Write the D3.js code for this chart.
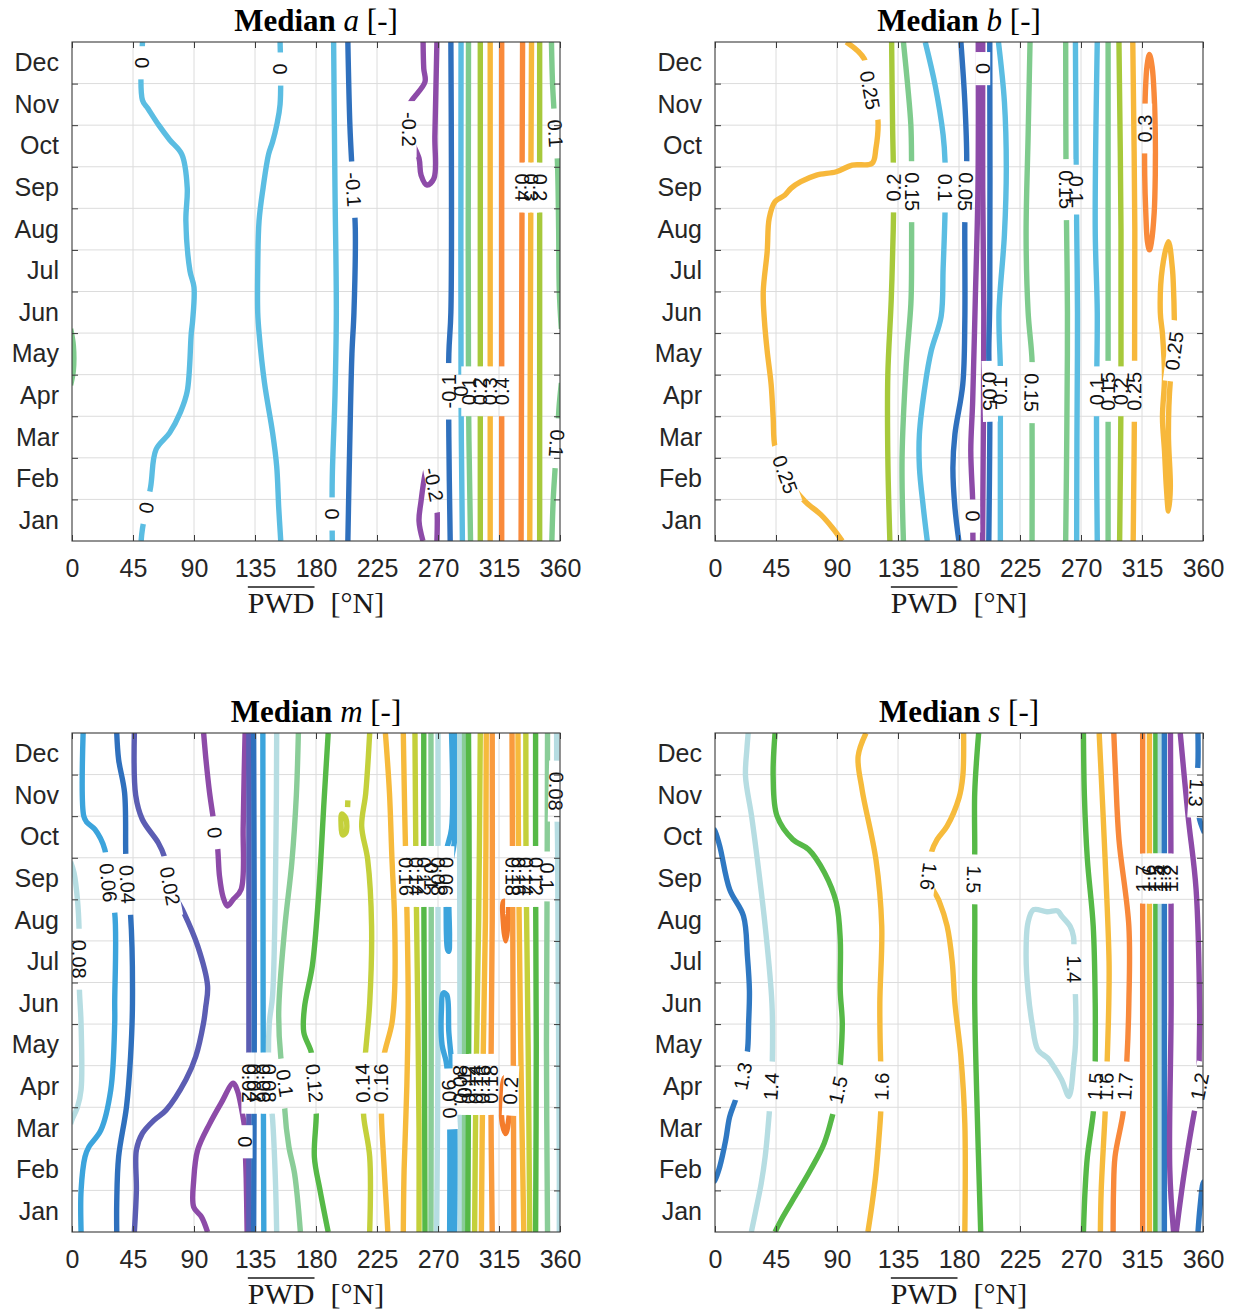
<!DOCTYPE html>
<html>
<head>
<meta charset="utf-8">
<script src="https://cdn.jsdelivr.net/npm/d3@7"></script>
<style>
  body { margin: 0; background: #fff; }
  svg { display: block; }
</style>
</head>
<body>
<div id="chart"></div>
<script>
var w = 1235, h = 1316;
var plotW = 488, plotH = 499;

// axes
var months = ['Jan','Feb','Mar','Apr','May','Jun','Jul','Aug','Sep','Oct','Nov','Dec'];
var monthPos = d3.range(1, 13);
var monthEdges = d3.range(1.5, 12, 1);
var xTicks = [0, 45, 90, 135, 180, 225, 270, 315, 360];

// each contour: level, points [PWD, month] and label anchors

// ---- median a ----
var aLevels = [-0.2, -0.1, 0, 0.1, 0.2, 0.3, 0.4];
var aColors = ['#8d4ba8', '#2f70bd', '#5bbde2', '#7fcb8d', '#a7c93b', '#f7b83b', '#f98a3b'];
var aLines = [
  {lev: 0, pts: [[52,12.5],[52,11.1],[56,10.9],[64,10.5],[72,10.15],[81,9.8],[85,9.0],[84,8.2],[87,7.0],[90,6.6],[89,5.8],[88,5.5],[85,4.1],[80,3.6],[72,3.1],[62,2.7],[58,1.8],[52,0.8],[51,0.5]], lab: [[52,12.0],[55,1.3]]},
  {lev: 0, pts: [[153.5,12.5],[153.5,11.0],[151,10.5],[148,10.1],[145,9.8],[141,9.0],[138,8.2],[137,7.0],[137,6.0],[138,5.5],[142,4.3],[148,3.1],[151,2.3],[152.5,1.3],[154,0.5]], lab: [[153.5,11.85]]},
  {lev: 0, pts: [[193,12.5],[194,9],[195,6],[194,4],[192,2],[192,0.5]], lab: [[192,1.15]]},
  {lev: -0.1, pts: [[203.5,12.5],[205,10.5],[206.5,9.5],[207.5,8.95],[209,8],[208,6],[206.5,5],[205,3],[203.5,0.5]], lab: [[207.5,8.95]]},
  {lev: -0.2, pts: [[259,12.5],[259.5,11.86],[260.4,11.54],[251.7,11.14],[248.7,10.98],[248.7,10.3],[256,9.7],[257.5,9.3],[261.9,9.06],[267,9.22],[267.7,10.26],[269.2,12.5]], lab: [[248.7,10.4]]},
  {lev: -0.2, pts: [[258.9,0.5],[256,0.98],[257.5,1.46],[260.4,2.1],[262.5,2.35],[264.8,2.19],[266.8,1.86],[269.2,1.34],[269.2,0.5]], lab: [[266.8,1.86]]},
  {lev: -0.1, pts: [[279,0.5],[278,3],[278,5],[279.5,6],[279.5,12.5]], lab: [[278,4.1]]},
  {lev: 0, pts: [[288,0.5],[287,4],[287,12.5]], lab: [[287,4.1]]},
  {lev: 0.1, pts: [[294,0.5],[292.5,4],[292.5,12.5]], lab: [[292.7,4.1]]},
  {lev: 0.2, pts: [[301.2,0.5],[301.2,12.5]], lab: [[301.2,4.1]]},
  {lev: 0.3, pts: [[308.5,0.5],[308.5,12.5]], lab: [[308.5,4.1]]},
  {lev: 0.4, pts: [[317,0.5],[317,12.5]], lab: [[317,4.1]]},
  {lev: 0.4, pts: [[332.4,12.5],[332,9],[331.3,0.5]], lab: [[332.2,9.0]]},
  {lev: 0.3, pts: [[339,12.5],[338.5,9],[337.7,0.5]], lab: [[338.8,9.0]]},
  {lev: 0.2, pts: [[345,12.5],[345,0.5]], lab: [[345,9.0]]},
  {lev: 0.1, pts: [[353.7,12.5],[354.5,11.5],[355.5,10.9],[356.6,10.3],[358,9.7],[359,8],[359.5,6.5],[361,5.6]], lab: [[356.6,10.3]]},
  {lev: 0.1, pts: [[361,4.3],[359.5,3.8],[358.5,3.3],[357.5,2.85],[356.5,2.3],[355,1.5],[354,0.5]], lab: [[357.5,2.85]]},
  {lev: 0.1, pts: [[-1,5.6],[1,5.2],[1,4.6],[-1,4.25]]}
];

// ---- median b ----
var bLevels = [0, 0.05, 0.1, 0.15, 0.2, 0.25, 0.3];
var bColors = ['#8d4ba8', '#2f70bd', '#5bbde2', '#7fcb8d', '#a7c93b', '#f7b83b', '#f98a3b'];
var bLines = [
  {lev: 0.25, pts: [[96.8,12.5],[110,12.1],[114.3,11.34],[120.1,10.66],[118.7,9.94],[115.8,9.58],[101.2,9.54],[89.5,9.38],[74.9,9.3],[63.3,9.14],[56,8.98],[51.6,8.82],[44.3,8.66],[40,8.26],[38.5,7.46],[35.6,6.5],[36.5,5.78],[38.5,5.07],[41.4,4.27],[42.9,3.47],[44.3,2.75],[51.6,2.1],[66.2,1.46],[77.9,1.14],[86.6,0.82],[93.9,0.5]], lab: [[114.3,11.34],[51.6,2.1]]},
  {lev: 0.2, pts: [[129,0.5],[127.5,2.5],[127.5,4.5],[130,6.3],[131.5,8],[131.8,9.0],[131,10.5],[130.3,12.5]], lab: [[131.8,9.0]]},
  {lev: 0.15, pts: [[139,12.5],[142,11.5],[144.5,10.5],[145,9.6],[145,8.9],[145,7],[144.5,6.2],[141,4.7],[138,2.5],[139,0.5]], lab: [[145,8.9]]},
  {lev: 0.1, pts: [[155.1,12.5],[162.4,11.46],[168.3,10.26],[169.7,9.62],[169.7,9.02],[169.7,8.42],[168.3,7.06],[166.8,5.9],[159.5,5.07],[155.1,4.27],[150.8,3.07],[150.8,2.27],[153.7,1.3],[156.6,0.5]], lab: [[169.7,9.0]]},
  {lev: 0.05, pts: [[181.4,12.5],[184.3,11.06],[185.7,9.62],[184.8,8.9],[184.3,8.18],[184.3,5.8],[182.8,4.27],[177,3.07],[175.5,2.27],[177,1.3],[179.9,0.5]], lab: [[184.8,8.9]]},
  {lev: 0, pts: [[194.2,12.5],[194,9],[192,6.28],[190.1,3.87],[188.7,2.67],[190.1,1.46],[190.1,1.14],[190.3,0.5]], lab: [[190.1,1.1]]},
  {lev: 0, pts: [[197.5,12.5],[197.5,9],[198.3,6],[197.4,0.5]], lab: [[197.5,11.86]]},
  {lev: 0.05, pts: [[202.7,12.5],[202.7,6.3],[202,5],[202.7,4.1],[202.7,3],[202,0.5]], lab: [[202.7,4.1]]},
  {lev: 0.1, pts: [[210.5,0.5],[210.5,2.5],[210.5,4.11],[210.5,4.67],[209.5,6],[213.5,7.86],[214.9,9.46],[213.5,11.06],[209.1,12.5]], lab: [[210.5,4.11]]},
  {lev: 0.15, pts: [[232.4,12.5],[231,10.26],[229.5,7.86],[231,6.0],[233.9,4.83],[233.5,4.07],[233.9,3.39],[233.9,0.5]], lab: [[233.5,4.07]]},
  {lev: 0.15, pts: [[258.7,12.5],[259,9],[260,6],[259.5,3],[258.7,0.5]], lab: [[259,8.95]]},
  {lev: 0.1, pts: [[265.9,12.5],[266.5,9],[267.4,6],[267,3],[266.8,0.5]], lab: [[266.5,8.95]]},
  {lev: 0.1, pts: [[282,0.5],[281.5,2.5],[281.5,4.1],[282,6],[280.5,8],[282,12.5]], lab: [[281.5,4.1]]},
  {lev: 0.15, pts: [[290,0.5],[290,12.5]], lab: [[290,4.1]]},
  {lev: 0.2, pts: [[298.5,0.5],[299.5,4],[299.5,8],[298,12.5]], lab: [[299.3,4.1]]},
  {lev: 0.25, pts: [[308.5,0.5],[309.5,4],[309.7,8],[308.2,12.5]], lab: [[309.3,4.1]]},
  {lev: 0.3, closed: true, pts: [[320.5,12.2],[322.5,11.9],[324,11.2],[324.8,10.3],[324.8,9.3],[324,8.4],[322,7.7],[320.5,7.5],[319,7.7],[317.8,8.4],[317,9.3],[317,10.42],[317.5,11.3],[318.8,11.95]], lab: [[317,10.42]]},
  {lev: 0.25, closed: true, pts: [[334.5,1.22],[335.9,1.78],[334.5,3.07],[335.9,4.35],[338.8,5.07],[338.8,5.9],[338.2,6.6],[337.4,7.06],[334.5,7.7],[330,7.06],[328.5,6.0],[330.1,5.48],[331.6,4.43],[330.1,3.47],[331.6,2.67],[333,1.78]], lab: [[338.8,5.07]]}
];

// ---- median m ----
var mLevels = [0, 0.02, 0.04, 0.06, 0.08, 0.1, 0.12, 0.14, 0.16, 0.18, 0.2];
var mColors = ['#8d4ba8', '#5b5db3', '#2f70bd', '#3ca4dc', '#b6dde2', '#8acd98', '#56b947', '#c4d03b', '#f6ba3c', '#f99b3e', '#f47c2c'];
var mLines = [
  {lev: 0.08, pts: [[-1,9.4],[1.5,9.14],[4,8.5],[5.2,7.8],[5.2,7.06],[5.5,6.3],[6.7,5.5],[6.7,3.92],[4,3.5],[0,3.2],[-1,3.1]], lab: [[5.2,7.06]]},
  {lev: 0.06, pts: [[8.2,12.5],[8.7,10.5],[11,10.35],[16.9,10.18],[24.2,9.7],[26.8,8.9],[31.5,8.18],[31.5,6.0],[31.5,5.52],[28.6,3.92],[21.3,2.95],[12.5,2.55],[9.6,2.31],[6.7,1.5],[6.7,0.5]], lab: [[26.8,8.9]]},
  {lev: 0.04, pts: [[33,12.5],[34.4,11.86],[38.8,11.06],[39.7,9.54],[40.8,8.86],[43.2,8.14],[44.6,6.0],[43.2,4.72],[40.2,3.51],[34.4,2.31],[33,1.2],[33,0.5]], lab: [[40.8,8.86]]},
  {lev: 0.02, pts: [[46,12.5],[47,11],[51.9,10.42],[63.6,9.86],[68,9.54],[72.3,8.82],[82.5,8.18],[92.7,7.38],[100,6.42],[98.6,5.9],[97,5.52],[91.3,4.72],[84,4.16],[69.4,3.43],[60.6,3.19],[51.9,2.87],[47.5,2.47],[47.5,1.5],[46,0.5]], lab: [[72.3,8.82]]},
  {lev: 0, pts: [[97.1,12.5],[99,11.8],[101.5,11.06],[104.4,10.4],[105.5,10.1],[107.3,9.78],[108.8,9.06],[111.5,8.55],[114.6,8.34],[119,8.5],[124.8,8.74],[126.3,10.26],[127,11.5],[127.7,12.5]], lab: [[105.2,10.1]]},
  {lev: 0, pts: [[100,0.5],[95.6,0.86],[89.8,1.1],[89.8,1.75],[92.7,2.47],[101.5,3.1],[110,3.6],[119,4.08],[122,3.9],[124.8,3.51],[127.7,2.9],[127.7,2.67],[128.5,1.8],[129.2,0.5]], lab: [[127.7,2.67]]},
  {lev: 0.02, pts: [[130.5,12.5],[130.5,0.5]], lab: [[130.5,4.08]]},
  {lev: 0.04, pts: [[134,12.5],[134.5,6],[134,0.5]], lab: [[134.3,4.08]]},
  {lev: 0.06, pts: [[140.8,12.5],[141,6],[141.5,0.5]], lab: [[141.2,4.08]]},
  {lev: 0.08, pts: [[151,12.5],[150.5,10],[148,6.2],[145.5,5.5],[145.5,4.08],[148,3.2],[150,1.8],[151,0.5]], lab: [[145.5,4.08]]},
  {lev: 0.1, pts: [[167,12.5],[165.5,11],[162.2,9.4],[156.9,7.8],[152.5,5.8],[154,4.72],[157,4.08],[157,3.43],[160,2.55],[164.2,1.9],[168.5,0.5]], lab: [[157,4.08]]},
  {lev: 0.12, pts: [[189,12.5],[186,10.9],[181.7,8.5],[177.3,6.9],[171.5,5.9],[171,5.3],[176.7,4.8],[178.8,4.08],[180.2,3.35],[178.8,2.3],[183,1.5],[189,0.5]], lab: [[178.8,4.08]]},
  {lev: 0.14, closed: true, pts: [[199,10.55],[202,10.45],[202,10.1],[199.5,10.05],[198.5,10.3]]},
  {lev: 0.14, pts: [[203.5,10.88],[203.3,10.72]]},
  {lev: 0.14, pts: [[219.6,0.5],[219.6,2.31],[215.2,3.27],[214.5,4.08],[216.7,4.88],[219.6,6.0],[221,7.86],[218.1,9.46],[213.7,10.26],[216.7,11.06],[219.6,12.5]], lab: [[214.5,4.08]]},
  {lev: 0.16, pts: [[233,0.5],[229.8,2.31],[228.3,3.27],[228.3,4.08],[230,4.72],[236,5.52],[238,6.3],[238,8],[236,9.5],[234.2,11.06],[231.2,12.5]], lab: [[228.3,4.08]]},
  {lev: 0.16, pts: [[244.4,12.5],[245.5,10.5],[246.5,9.05],[247.5,7.5],[248,6],[247,4],[245,2],[244.4,0.5]], lab: [[246.5,9.05]]},
  {lev: 0.14, pts: [[253,12.5],[253.8,9.05],[255,6],[256,3],[256,0.5]], lab: [[253.8,9.05]]},
  {lev: 0.12, pts: [[259.5,12.5],[259.5,9.05],[260,5],[260.4,0.5]], lab: [[259.5,9.05]]},
  {lev: 0.1, pts: [[264.8,12.5],[265,9.05],[265,5],[264.8,0.5]], lab: [[265,9.05]]},
  {lev: 0.08, pts: [[270,12.5],[270,9.05],[270,5],[269,0.5]], lab: [[270,9.05]]},
  {lev: 0.06, pts: [[280,12.5],[280,10.2],[276.5,9.7],[276,9.05],[276,8.4],[277,7.3],[278,7.25],[278.5,7.6],[278,8.4],[278.5,9.2],[282.5,10],[282.5,12.5]], lab: [[276,9.05]]},
  {lev: 0.06, pts: [[278.6,0.5],[278.6,3.3],[277.8,4.0],[276,4.6],[273,5.0],[272.5,5.8],[274,6.25],[276.5,6.2],[278,5.3],[280,4.6],[282.3,3.6],[282.3,0.5]], lab: [[278.4,3.7]]},
  {lev: 0.08, pts: [[286.6,0.5],[286.3,4.05],[286,9],[286,12.5]], lab: [[286.3,4.05]]},
  {lev: 0.1, pts: [[289.5,0.5],[289.6,4.05],[289.6,12.5]], lab: [[289.6,4.05]]},
  {lev: 0.12, pts: [[292,0.5],[292.5,4.05],[293,9],[292.5,12.5]], lab: [[292.5,4.05]]},
  {lev: 0.14, pts: [[297,0.5],[298,4.05],[300,8],[301.2,12.5]], lab: [[298,4.05]]},
  {lev: 0.16, pts: [[302,0.5],[303,4.05],[305,8],[305.6,12.5]], lab: [[303,4.05]]},
  {lev: 0.18, pts: [[310,0.5],[309,4.05],[310,8],[310,12.5]], lab: [[309,4.05]]},
  {lev: 0.2, closed: true, pts: [[318.5,8.45],[321.5,8.4],[321.5,7.9],[320,7.5],[318.3,7.9]]},
  {lev: 0.2, closed: true, pts: [[320,2.87],[322.5,3.3],[323.5,3.9],[322,4.25],[319,4.2],[317,3.7],[317.5,3.1]], lab: [[323.5,3.9]]},
  {lev: 0.18, pts: [[324.6,12.5],[325,9.05],[325.5,5],[326,0.5]], lab: [[325,9.05]]},
  {lev: 0.16, pts: [[329,12.5],[329.5,9.05],[331,5],[333.3,0.5]], lab: [[329.5,9.05]]},
  {lev: 0.14, pts: [[334.8,12.5],[335,9.05],[336.5,5],[337.7,0.5]], lab: [[335,9.05]]},
  {lev: 0.12, pts: [[342,12.5],[342,9.05],[342.5,5],[342,0.5]], lab: [[342,9.05]]},
  {lev: 0.1, pts: [[350.8,12.5],[350.5,9.05],[350,5],[350.8,0.5]], lab: [[350.5,9.05]]},
  {lev: 0.08, pts: [[357.5,12.5],[357.5,11.8],[357,11.1],[358,10.3],[358.5,8],[359,5],[359.5,2],[359.5,0.5]], lab: [[357,11.1]]}
];

// ---- median s ----
var sLevels = [1.2, 1.3, 1.4, 1.5, 1.6, 1.7];
var sColors = ['#8d4ba8', '#2f78c2', '#b6dde2', '#56b947', '#f6bb3c', '#f8893b'];
var sLines = [
  {lev: 1.3, pts: [[-1,1.7],[0,1.75],[3.5,2.07],[7.9,2.71],[10.8,3.27],[15.2,3.68],[20,4.2],[23.9,4.84],[24.8,5.52],[25.4,6.3],[23.9,7.14],[21,8.1],[10.8,8.74],[3.5,9.78],[0,10.14],[-1,10.2]], lab: [[20.5,4.25]]},
  {lev: 1.3, pts: [[356.3,12.5],[356.3,11.78],[355,11.06],[357.5,10.42],[360,10.18],[361,10.1]], lab: [[355,11.06]]},
  {lev: 1.3, pts: [[361,1.72],[360,1.67],[357.8,1.1],[356.3,0.5]]},
  {lev: 1.4, pts: [[26.8,0.5],[30,1.0],[34.1,1.67],[37,2.31],[40,3.35],[41.4,4.0],[42.3,4.64],[42,6.0],[37,7.86],[31.2,9.46],[27,10.5],[22.5,11.46],[23.5,12.1],[24.5,12.5]], lab: [[41.4,4.0]]},
  {lev: 1.5, pts: [[44.3,0.5],[50,0.86],[60.2,1.42],[70.4,1.99],[80.5,2.63],[86.4,3.27],[91,3.92],[92.4,4.48],[93.9,5.52],[92.4,6.3],[92.4,7.54],[89.5,8.42],[80.8,9.14],[69.1,9.7],[57.4,9.94],[45.8,10.5],[42.9,11.46],[44.3,12.5]], lab: [[90.8,3.92]]},
  {lev: 1.6, pts: [[112.8,0.5],[116,1.2],[118.7,1.91],[121.5,3.0],[122.2,3.35],[123,4.0],[122.2,4.6],[121.6,6.0],[123,7.86],[118.7,9.46],[108.5,11.14],[105.6,11.94],[111.4,12.5]], lab: [[123,4.0]]},
  {lev: 1.6, pts: [[183.4,12.5],[182.8,11.46],[180,10.94],[171.2,10.26],[163.9,9.94],[159.5,9.62],[157,9.02],[165.3,8.46],[171.2,7.86],[175,7.0],[177,6.0],[181.4,4.72],[184.3,3.11],[184.3,0.5]], lab: [[157.5,9.05]]},
  {lev: 1.5, pts: [[194.5,12.5],[191.6,11.06],[191.6,9.6],[191,8.98],[191.6,8.4],[191.6,6.0],[193,3.9],[196,0.5]], lab: [[191,8.98]]},
  {lev: 1.4, closed: true, pts: [[235,8.25],[245,8.2],[252.8,8.22],[255.7,8.1],[262,7.85],[264.5,7.6],[264.5,6.82],[265.9,6.18],[265.9,5.0],[264.5,4.5],[262.5,3.9],[261,3.76],[255.7,4.16],[249.9,4.48],[245.5,4.68],[238.2,4.88],[233.9,5.52],[230.9,6.3],[229.5,7.14],[230.9,7.94]], lab: [[264.5,6.82]]},
  {lev: 1.5, pts: [[271.8,0.5],[273,1.5],[274.7,2.31],[279,3.35],[280.5,4.0],[280.5,4.6],[280.5,6.0],[279,7.86],[274.7,9.46],[272.5,11],[271.8,12.5]], lab: [[280.5,4.0]]},
  {lev: 1.6, pts: [[284.3,0.5],[284.9,1.5],[287.8,3.35],[288.6,4.0],[289.3,4.6],[290.5,6.0],[290.7,7.0],[287.8,9.46],[283.4,12.5]], lab: [[288.6,4.0]]},
  {lev: 1.7, pts: [[293.7,0.5],[294,1.5],[295.1,2.31],[301,3.35],[302.5,4.0],[303.8,4.6],[305.3,6.0],[305.3,7.86],[298,9.94],[295.5,11.5],[294.2,12.5]], lab: [[302.5,4.0]]},
  {lev: 1.7, pts: [[315.5,0.5],[315.5,12.5]], lab: [[315.5,9.0]]},
  {lev: 1.6, pts: [[320.5,0.5],[320.5,12.5]], lab: [[320.5,9.0]]},
  {lev: 1.5, pts: [[325.2,0.5],[325.2,12.5]], lab: [[325.2,9.0]]},
  {lev: 1.4, pts: [[328.5,0.5],[328.5,12.5]], lab: [[328.5,9.0]]},
  {lev: 1.3, pts: [[331.5,0.5],[331.5,12.5]], lab: [[331.5,9.0]]},
  {lev: 1.2, pts: [[338.3,0.5],[335.5,2],[336.5,6],[336,12.5]], lab: [[336.3,9.0]]},
  {lev: 1.2, pts: [[340.3,0.5],[346.1,1.91],[353.4,3.35],[357.5,4.0],[357.2,4.6],[357.5,5.86],[354.9,8.74],[349,10.5],[343.2,12.5]], lab: [[357.5,4.0]]}
];

var panels = [
  {sym: 'a', left: 72,  top: 42,  levels: aLevels, colors: aColors, lines: aLines},
  {sym: 'b', left: 715, top: 42,  levels: bLevels, colors: bColors, lines: bLines},
  {sym: 'm', left: 72,  top: 733, levels: mLevels, colors: mColors, lines: mLines},
  {sym: 's', left: 715, top: 733, levels: sLevels, colors: sColors, lines: sLines}
];

var sans = '"Liberation Sans", Arial, Helvetica, sans-serif';
var serif = '"Liberation Serif", "Times New Roman", serif';

var svg = d3.select('#chart')
  .append('svg')
  .attr('width', w)
  .attr('height', h);

var defs = svg.append('defs');

// angle of the contour where its label sits, in screen coordinates
function labelAngle(pts, closed, px, py, x, y) {
  var best = Infinity, ang = 90;
  var n = pts.length;
  var segs = closed ? n : n - 1;
  for (var i = 0; i < segs; i++) {
    var a = pts[i], b = pts[(i + 1) % n];
    var ax = x(a[0]), ay = y(a[1]), bx = x(b[0]), by = y(b[1]);
    var dx = bx - ax, dy = by - ay;
    var len2 = dx * dx + dy * dy;
    var t = len2 ? ((px - ax) * dx + (py - ay) * dy) / len2 : 0;
    t = Math.max(0, Math.min(1, t));
    var cx = ax + t * dx, cy = ay + t * dy;
    var d = (px - cx) * (px - cx) + (py - cy) * (py - cy);
    if (d < best - 1e-6) {
      best = d;
      ang = Math.atan2(dy, dx) * 180 / Math.PI;
    }
  }
  return ang;
}

function drawPanel(p, idx) {
  var x = d3.scaleLinear().domain([0, 360]).range([0, plotW]);
  var y = d3.scaleLinear().domain([0.5, 12.5]).range([plotH, 0]);
  var color = d3.scaleOrdinal().domain(p.levels).range(p.colors);

  var g = svg.append('g')
    .attr('transform', 'translate(' + p.left + ',' + p.top + ')');

  // grid
  var grid = g.append('g').attr('stroke', '#dcdcdc').attr('stroke-width', 1);
  grid.selectAll('line.gx')
    .data(xTicks.slice(1, -1))
    .enter().append('line')
    .attr('class', 'gx')
    .attr('x1', function(d) { return x(d); })
    .attr('x2', function(d) { return x(d); })
    .attr('y1', 0).attr('y2', plotH);
  grid.selectAll('line.gy')
    .data(monthEdges)
    .enter().append('line')
    .attr('class', 'gy')
    .attr('y1', function(d) { return y(d); })
    .attr('y2', function(d) { return y(d); })
    .attr('x1', 0).attr('x2', plotW);

  var clipId = 'clip' + idx, maskId = 'mask' + idx;
  defs.append('clipPath').attr('id', clipId)
    .append('rect').attr('width', plotW).attr('height', plotH);
  var mask = defs.append('mask').attr('id', maskId)
    .attr('maskUnits', 'userSpaceOnUse')
    .attr('x', -20).attr('y', -20)
    .attr('width', plotW + 40).attr('height', plotH + 40);
  mask.append('rect')
    .attr('x', -20).attr('y', -20)
    .attr('width', plotW + 40).attr('height', plotH + 40)
    .attr('fill', 'white');

  var openLine = d3.line()
    .x(function(d) { return x(d[0]); })
    .y(function(d) { return y(d[1]); })
    .curve(d3.curveCatmullRom.alpha(0.5));
  var closedLine = d3.line()
    .x(function(d) { return x(d[0]); })
    .y(function(d) { return y(d[1]); })
    .curve(d3.curveCatmullRomClosed.alpha(0.5));

  var lg = g.append('g')
    .attr('clip-path', 'url(#' + clipId + ')')
    .append('g')
    .attr('mask', 'url(#' + maskId + ')');

  lg.selectAll('path')
    .data(p.lines)
    .enter().append('path')
    .attr('d', function(d) { return d.closed ? closedLine(d.pts) : openLine(d.pts); })
    .attr('fill', 'none')
    .attr('stroke', function(d) { return color(d.lev); })
    .attr('stroke-width', 5.4)
    .attr('stroke-linejoin', 'round')
    .attr('stroke-linecap', 'butt');

  // inline contour labels
  var labG = g.append('g')
    .attr('font-family', sans)
    .attr('font-size', 20)
    .attr('fill', '#111');
  p.lines.forEach(function(l) {
    (l.lab || []).forEach(function(pt) {
      var px = x(pt[0]), py = y(pt[1]);
      var ang = labelAngle(l.pts, l.closed, px, py, x, y);
      var tr = 'translate(' + px + ',' + py + ') rotate(' + ang + ')';
      var t = labG.append('text')
        .attr('transform', tr)
        .attr('text-anchor', 'middle')
        .attr('dy', '0.35em')
        .text(String(l.lev));
      var len = t.node().getComputedTextLength();
      mask.append('rect')
        .attr('transform', tr)
        .attr('x', -len / 2 - 11).attr('y', -7.5)
        .attr('width', len + 22).attr('height', 15)
        .attr('fill', 'black');
    });
  });

  // box
  g.append('rect')
    .attr('width', plotW).attr('height', plotH)
    .attr('fill', 'none')
    .attr('stroke', '#3a3a3a')
    .attr('stroke-width', 1.1);

  // inward ticks on all four sides
  var tickSides = [
    [d3.axisLeft(y).tickValues(monthEdges), 0, 0],
    [d3.axisRight(y).tickValues(monthEdges), plotW, 0],
    [d3.axisBottom(x).tickValues(xTicks), 0, plotH],
    [d3.axisTop(x).tickValues(xTicks), 0, 0]
  ];
  tickSides.forEach(function(s) {
    var ag = g.append('g')
      .attr('transform', 'translate(' + s[1] + ',' + s[2] + ')')
      .call(s[0].tickSize(-6).tickFormat(''));
    ag.select('.domain').remove();
    ag.selectAll('line').attr('stroke', '#3a3a3a');
  });

  // tick labels
  var yAx = g.append('g')
    .call(d3.axisLeft(y).tickValues(monthPos)
      .tickFormat(function(d) { return months[d - 1]; })
      .tickSize(0).tickPadding(13));
  var xAx = g.append('g')
    .attr('transform', 'translate(0,' + plotH + ')')
    .call(d3.axisBottom(x).tickValues(xTicks).tickSize(0).tickPadding(18));
  [yAx, xAx].forEach(function(a) {
    a.select('.domain').remove();
    a.attr('font-family', sans).attr('font-size', 25);
    a.selectAll('text').attr('fill', '#262626');
  });

  // title
  var title = g.append('text')
    .attr('x', plotW / 2)
    .attr('y', -11)
    .attr('text-anchor', 'middle')
    .attr('font-family', serif)
    .attr('font-size', 31)
    .attr('fill', '#000');
  title.append('tspan').attr('font-weight', 'bold').text('Median ');
  title.append('tspan').attr('font-style', 'italic').text(p.sym);
  title.append('tspan').text(' [-]');

  // x label with overline
  var xl = g.append('g')
    .attr('transform', 'translate(' + (plotW / 2) + ',' + (plotH + 72) + ')')
    .attr('font-family', serif)
    .attr('font-size', 30)
    .attr('fill', '#1a1a1a');
  var t1 = xl.append('text').text('PWD');
  var t2 = xl.append('text').text('[\u00B0N]');
  var w1 = t1.node().getComputedTextLength();
  var w2 = t2.node().getComputedTextLength();
  var gap = 16;
  var start = -(w1 + gap + w2) / 2;
  t1.attr('x', start);
  t2.attr('x', start + w1 + gap);
  xl.append('line')
    .attr('x1', start).attr('x2', start + w1)
    .attr('y1', -26).attr('y2', -26)
    .attr('stroke', '#1a1a1a')
    .attr('stroke-width', 1.4);
}

panels.forEach(drawPanel);
</script>
</body>
</html>
